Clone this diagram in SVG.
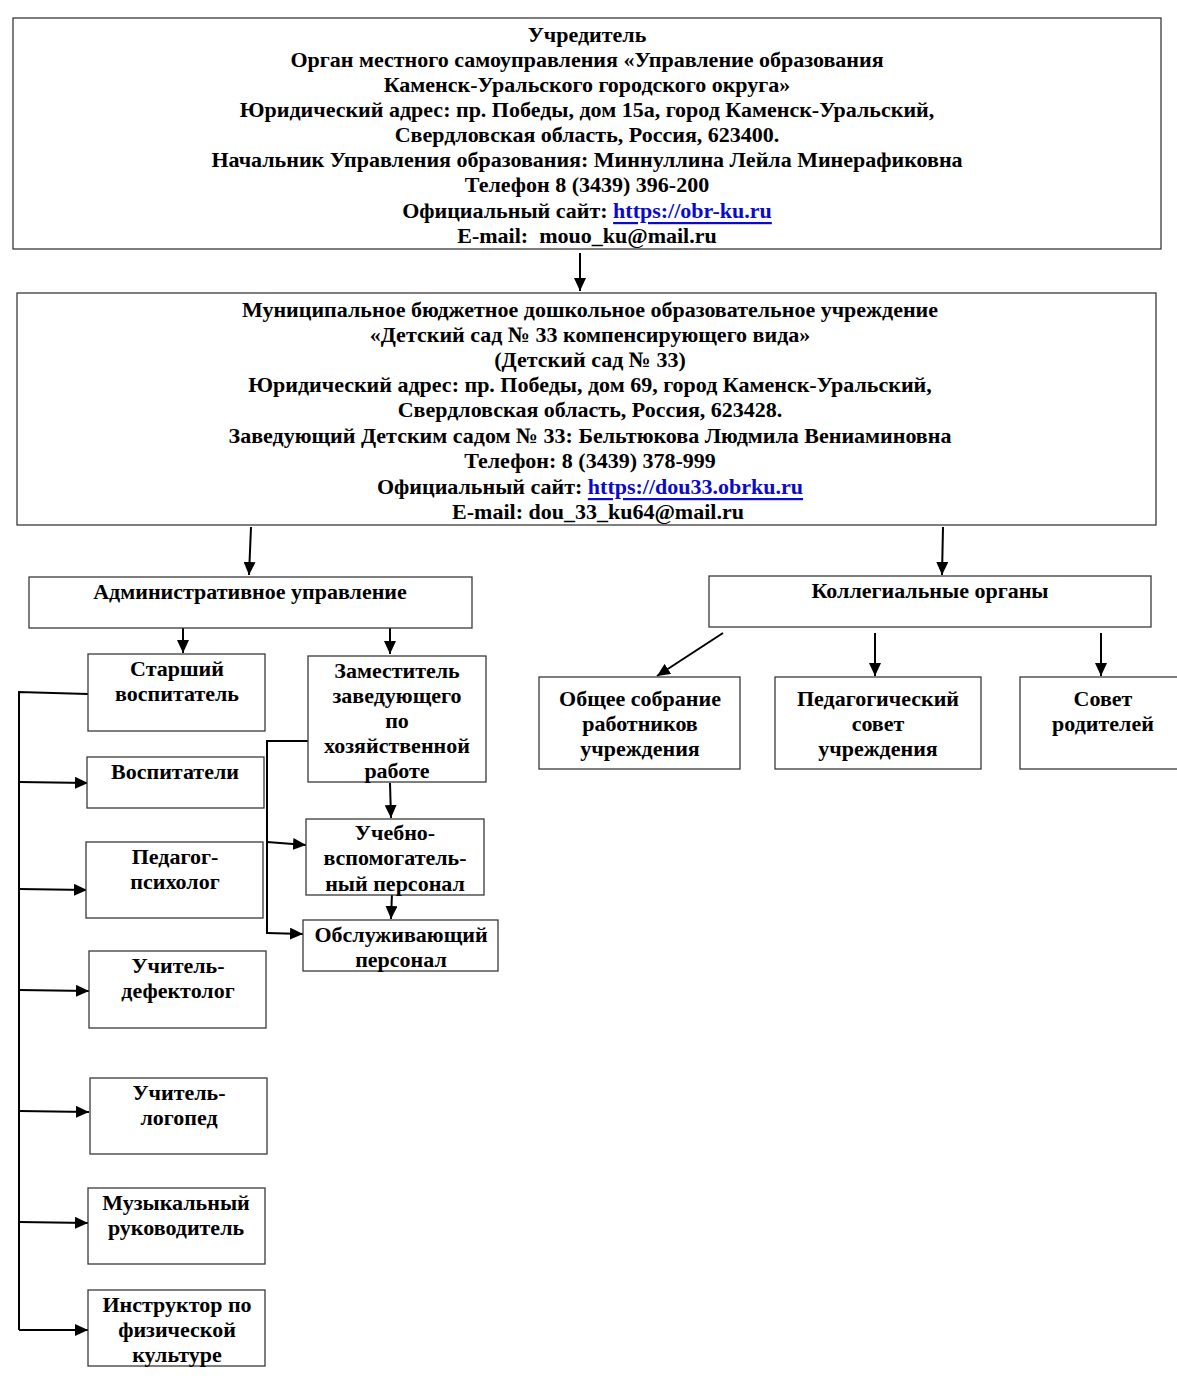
<svg xmlns="http://www.w3.org/2000/svg" width="1177" height="1379" viewBox="0 0 1177 1379">
<style>
.box{fill:#fff;stroke:#3a3a3a;stroke-width:1.3}
.t{font-family:"Liberation Serif","Times New Roman",serif;font-weight:bold;font-size:22px;fill:#000;text-anchor:middle;dominant-baseline:central}
.lnk{fill:#0a0acc;text-decoration:underline}
.c{fill:none;stroke:#000;stroke-width:2}
.ca{fill:none;stroke:#000;stroke-width:2;marker-end:url(#ah)}
</style>
<defs>
<marker id="ah" markerUnits="userSpaceOnUse" markerWidth="14" markerHeight="12" refX="13" refY="6" orient="auto">
<path d="M0,0 L13,6 L0,12 Z" fill="#000"/>
</marker>
</defs>
<rect width="1177" height="1379" fill="#fff"/>

<g id="connectors">
<line class="ca" x1="580" y1="253" x2="580" y2="291"/>
<line class="ca" x1="251" y1="527" x2="249" y2="575"/>
<line class="ca" x1="943" y1="527" x2="942" y2="575"/>
<line class="ca" x1="183" y1="625" x2="183" y2="653"/>
<line class="ca" x1="390" y1="625" x2="390" y2="654"/>
<line class="ca" x1="723" y1="633" x2="657" y2="676"/>
<line class="ca" x1="875" y1="633" x2="875" y2="676"/>
<line class="ca" x1="1101" y1="633" x2="1101" y2="676"/>
<polyline class="c" points="88,694 19,692 19,1330"/>
<line class="ca" x1="19" y1="782" x2="88" y2="783"/>
<line class="ca" x1="19" y1="889" x2="87" y2="890"/>
<line class="ca" x1="19" y1="990" x2="89" y2="991"/>
<line class="ca" x1="19" y1="1111" x2="89" y2="1112"/>
<line class="ca" x1="19" y1="1222" x2="88" y2="1223"/>
<line class="ca" x1="19" y1="1330" x2="88" y2="1330"/>
<polyline class="c" points="308,741 267,741 267,934"/>
<line class="ca" x1="267" y1="842" x2="306" y2="845"/>
<line class="ca" x1="267" y1="933" x2="303" y2="934"/>
<line class="ca" x1="390" y1="783" x2="391" y2="818"/>
<line class="ca" x1="392" y1="893" x2="391" y2="919"/>
</g>

<g id="founder">
<rect class="box" x="13" y="18" width="1148" height="231"/>
<text class="t" x="587" y="34">Учредитель</text>
<text class="t" x="587" y="59">Орган местного самоуправления «Управление образования</text>
<text class="t" x="587" y="84">Каменск-Уральского городского округа»</text>
<text class="t" x="587" y="109">Юридический адрес: пр. Победы, дом 15а, город Каменск-Уральский,</text>
<text class="t" x="587" y="134">Свердловская область, Россия, 623400.</text>
<text class="t" x="587" y="159">Начальник Управления образования: Миннуллина Лейла Минерафиковна</text>
<text class="t" x="587" y="184">Телефон 8 (3439) 396-200</text>
<text class="t" x="587" y="210">Официальный сайт: <tspan class="lnk">https://obr-ku.ru</tspan></text>
<text class="t" x="587" y="235" xml:space="preserve">E-mail:  mouo_ku@mail.ru</text>
</g>

<g id="kindergarten">
<rect class="box" x="17" y="293" width="1139" height="232"/>
<text class="t" x="590" y="309">Муниципальное бюджетное дошкольное образовательное учреждение</text>
<text class="t" x="590" y="334">«Детский сад № 33 компенсирующего вида»</text>
<text class="t" x="590" y="359">(Детский сад № 33)</text>
<text class="t" x="590" y="384">Юридический адрес: пр. Победы, дом 69, город Каменск-Уральский,</text>
<text class="t" x="590" y="409">Свердловская область, Россия, 623428.</text>
<text class="t" x="590" y="435">Заведующий Детским садом № 33: Бельтюкова Людмила Вениаминовна</text>
<text class="t" x="590" y="460">Телефон: 8 (3439) 378-999</text>
<text class="t" x="590" y="486">Официальный сайт: <tspan class="lnk">https://dou33.obrku.ru</tspan></text>
<text class="t" x="598" y="511">E-mail: dou_33_ku64@mail.ru</text>
</g>

<g id="admin">
<rect class="box" x="29" y="577" width="443" height="51"/>
<text class="t" x="250" y="591">Административное управление</text>
</g>

<g id="collegial">
<rect class="box" x="709" y="576" width="442" height="51"/>
<text class="t" x="930" y="590">Коллегиальные органы</text>
</g>

<g id="senior">
<rect class="box" x="88" y="654" width="177" height="77"/>
<text class="t" x="177" y="668">Старший</text>
<text class="t" x="177" y="693">воспитатель</text>
</g>

<g id="deputy">
<rect class="box" x="308" y="656" width="178" height="126"/>
<text class="t" x="397" y="670">Заместитель</text>
<text class="t" x="397" y="695">заведующего</text>
<text class="t" x="397" y="720">по</text>
<text class="t" x="397" y="745">хозяйственной</text>
<text class="t" x="397" y="770">работе</text>
</g>

<g id="educators">
<rect class="box" x="87" y="757" width="177" height="51"/>
<text class="t" x="175" y="771">Воспитатели</text>
</g>

<g id="psychologist">
<rect class="box" x="86" y="842" width="177" height="76"/>
<text class="t" x="175" y="856">Педагог-</text>
<text class="t" x="175" y="881">психолог</text>
</g>

<g id="defectologist">
<rect class="box" x="89" y="951" width="177" height="77"/>
<text class="t" x="178" y="965">Учитель-</text>
<text class="t" x="178" y="990">дефектолог</text>
</g>

<g id="logoped">
<rect class="box" x="90" y="1078" width="177" height="76"/>
<text class="t" x="179" y="1092">Учитель-</text>
<text class="t" x="179" y="1117">логопед</text>
</g>

<g id="music">
<rect class="box" x="88" y="1188" width="177" height="76"/>
<text class="t" x="176" y="1202">Музыкальный</text>
<text class="t" x="176" y="1227">руководитель</text>
</g>

<g id="instructor">
<rect class="box" x="88" y="1290" width="177" height="76"/>
<text class="t" x="177" y="1304">Инструктор по</text>
<text class="t" x="177" y="1329">физической</text>
<text class="t" x="177" y="1354">культуре</text>
</g>

<g id="support-staff">
<rect class="box" x="306" y="819" width="178" height="76"/>
<text class="t" x="395" y="832">Учебно-</text>
<text class="t" x="395" y="857">вспомогатель-</text>
<text class="t" x="395" y="883">ный персонал</text>
</g>

<g id="service-staff">
<rect class="box" x="303" y="920" width="195" height="51"/>
<text class="t" x="401" y="934">Обслуживающий</text>
<text class="t" x="401" y="959">персонал</text>
</g>

<g id="general-meeting">
<rect class="box" x="539" y="677" width="201" height="92"/>
<text class="t" x="640" y="698">Общее собрание</text>
<text class="t" x="640" y="723">работников</text>
<text class="t" x="640" y="748">учреждения</text>
</g>

<g id="ped-council">
<rect class="box" x="775" y="677" width="206" height="92"/>
<text class="t" x="878" y="698">Педагогический</text>
<text class="t" x="878" y="723">совет</text>
<text class="t" x="878" y="748">учреждения</text>
</g>

<g id="parents-council">
<rect class="box" x="1020" y="677" width="170" height="92"/>
<text class="t" x="1103" y="698">Совет</text>
<text class="t" x="1103" y="723">родителей</text>
</g>
</svg>
